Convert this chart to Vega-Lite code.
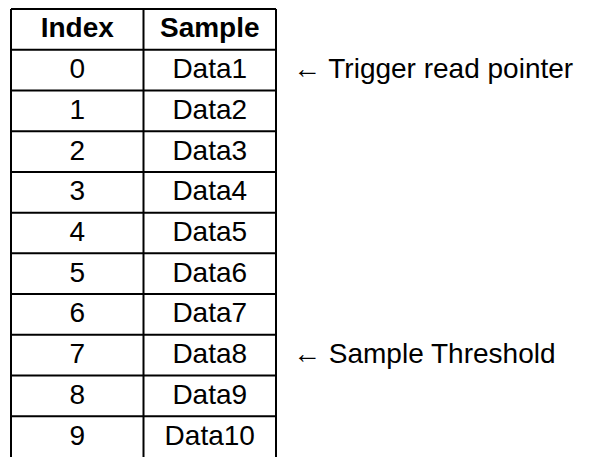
{
  "$schema": "https://vega.github.io/schema/vega-lite/v6.json",
  "width": 265,
  "height": 448,
  "padding": {"left": 11, "top": 9, "right": 319, "bottom": 0},
  "autosize": {"type": "none"},
  "background": "white",
  "config": {"view": {"stroke": null}, "font": "Liberation Sans"},
  "datasets": {
    "table": [
      {"row": "H", "Index": "Index", "Sample": "Sample"},
      {"row": "0", "Index": "0", "Sample": "Data1", "Note": "← Trigger read pointer"},
      {"row": "1", "Index": "1", "Sample": "Data2"},
      {"row": "2", "Index": "2", "Sample": "Data3"},
      {"row": "3", "Index": "3", "Sample": "Data4"},
      {"row": "4", "Index": "4", "Sample": "Data5"},
      {"row": "5", "Index": "5", "Sample": "Data6"},
      {"row": "6", "Index": "6", "Sample": "Data7"},
      {"row": "7", "Index": "7", "Sample": "Data8", "Note": "← Sample Threshold"},
      {"row": "8", "Index": "8", "Sample": "Data9"},
      {"row": "9", "Index": "9", "Sample": "Data10"}
    ],
    "columns": [
      {"col": "Index"},
      {"col": "Sample"}
    ]
  },
  "data": {"name": "table"},
  "layer": [
    {
      "mark": {"type": "rule", "strokeWidth": 2, "color": "black"},
      "encoding": {
        "y": {"field": "row", "type": "nominal", "bandPosition": 0, "axis": null,
              "scale": {"type": "band", "domain": ["H","0","1","2","3","4","5","6","7","8","9"], "paddingInner": 0, "paddingOuter": 0}}
      }
    },
    {
      "data": {"name": "columns"},
      "mark": {"type": "rule", "strokeWidth": 2, "color": "black"},
      "encoding": {
        "x": {"field": "col", "type": "nominal", "bandPosition": 0, "axis": null,
              "scale": {"type": "band", "domain": ["Index","Sample"], "paddingInner": 0, "paddingOuter": 0}}
      }
    },
    {
      "data": {"name": "columns"},
      "transform": [{"filter": "datum.col === 'Sample'"}],
      "mark": {"type": "rule", "strokeWidth": 2, "color": "black"},
      "encoding": {
        "x": {"field": "col", "type": "nominal", "bandPosition": 1, "axis": null,
              "scale": {"type": "band", "domain": ["Index","Sample"], "paddingInner": 0, "paddingOuter": 0}}
      }
    },
    {
      "transform": [
        {"fold": ["Index", "Sample"], "as": ["key", "value"]},
        {"filter": "datum.row === 'H'"}
      ],
      "mark": {"type": "text", "fontSize": 28, "fontWeight": "bold", "color": "black", "baseline": "middle", "align": "center"},
      "encoding": {
        "y": {"field": "row", "type": "nominal", "axis": null,
              "scale": {"type": "band", "domain": ["H","0","1","2","3","4","5","6","7","8","9"], "paddingInner": 0, "paddingOuter": 0}},
        "x": {"field": "key", "type": "nominal", "axis": null,
              "scale": {"type": "band", "domain": ["Index","Sample"], "paddingInner": 0, "paddingOuter": 0}},
        "text": {"field": "value"}
      }
    },
    {
      "transform": [
        {"fold": ["Index", "Sample"], "as": ["key", "value"]},
        {"filter": "datum.row !== 'H'"}
      ],
      "mark": {"type": "text", "fontSize": 28, "color": "black", "baseline": "middle", "align": "center"},
      "encoding": {
        "y": {"field": "row", "type": "nominal", "axis": null,
              "scale": {"type": "band", "domain": ["H","0","1","2","3","4","5","6","7","8","9"], "paddingInner": 0, "paddingOuter": 0}},
        "x": {"field": "key", "type": "nominal", "axis": null,
              "scale": {"type": "band", "domain": ["Index","Sample"], "paddingInner": 0, "paddingOuter": 0}},
        "text": {"field": "value"}
      }
    },
    {
      "transform": [{"filter": "isValid(datum.Note)"}],
      "mark": {"type": "text", "fontSize": 28, "color": "black", "baseline": "middle", "align": "left", "dx": 17},
      "encoding": {
        "y": {"field": "row", "type": "nominal", "axis": null,
              "scale": {"type": "band", "domain": ["H","0","1","2","3","4","5","6","7","8","9"], "paddingInner": 0, "paddingOuter": 0}},
        "x": {"datum": "Sample", "type": "nominal", "bandPosition": 1, "axis": null,
              "scale": {"type": "band", "domain": ["Index","Sample"], "paddingInner": 0, "paddingOuter": 0}},
        "text": {"field": "Note"}
      }
    }
  ]
}
